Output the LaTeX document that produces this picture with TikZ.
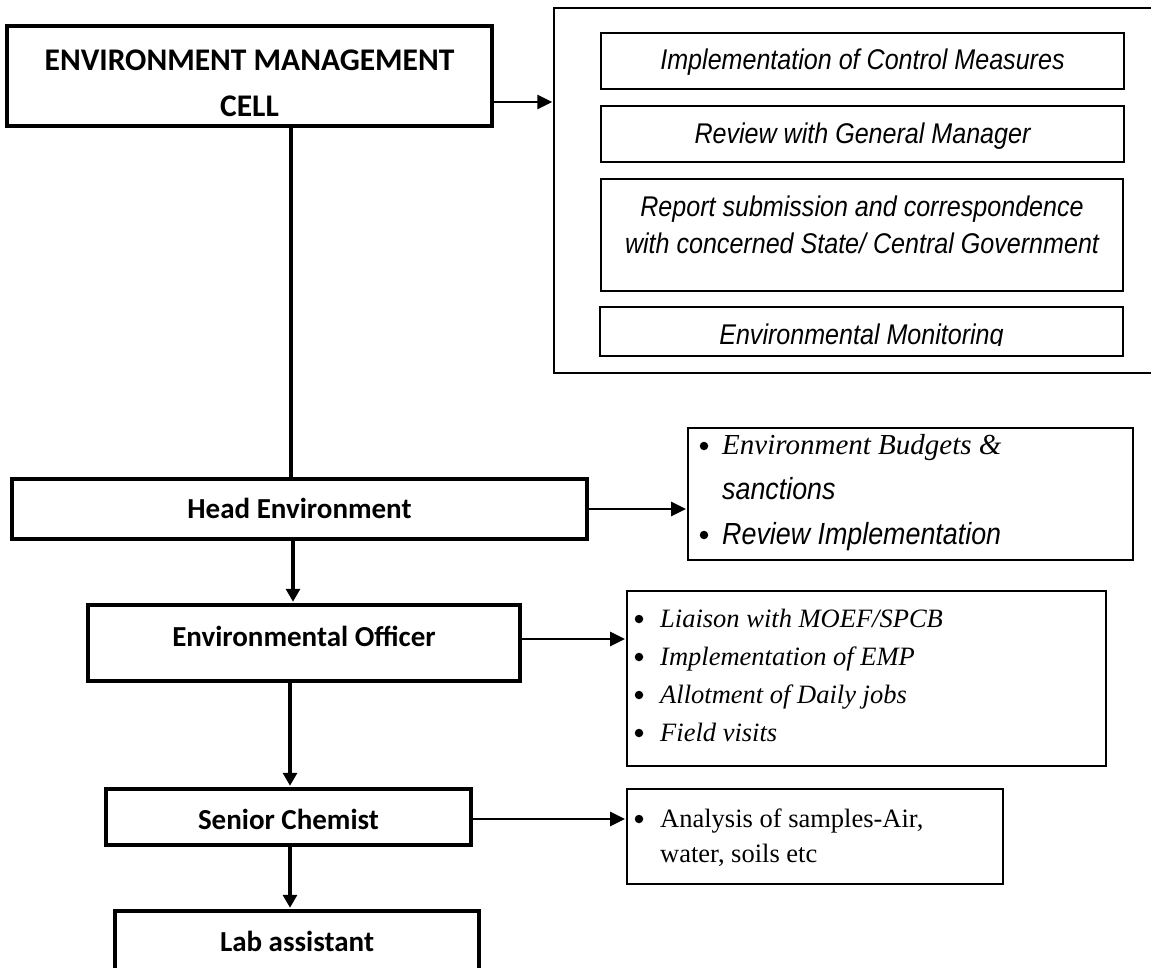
\documentclass[tikz,border=0pt]{standalone}
\usepackage{fontspec}
\usetikzlibrary{arrows.meta}
\newfontfamily\calibrifont{Carlito}
\newfontfamily\narrowsans{Liberation Sans}[FakeStretch=0.88]
\newfontfamily\timesfont{Liberation Serif}
\begin{document}
\begin{tikzpicture}[x=1pt,y=-1pt,
  orgbox/.style={draw, line width=3.5pt, inner sep=0pt},
  panelbox/.style={draw, line width=1.5pt, inner sep=0pt},
  taskbox/.style={draw, line width=2.2pt, inner sep=0pt},
  listbox/.style={draw, line width=1.8pt, inner sep=0pt},
  orglabel/.style={anchor=base, inner sep=0pt, font=\calibrifont\bfseries\fontsize{29}{34}\selectfont},
  toplabel/.style={anchor=base, inner sep=0pt, font=\calibrifont\bfseries\fontsize{31.5}{38}\selectfont},
  tasklabel/.style={anchor=base, inner sep=0pt, font=\narrowsans\itshape\fontsize{28.5}{33}\selectfont},
  serifit/.style={anchor=base west, inner sep=0pt, font=\timesfont\itshape\fontsize{26.5}{31}\selectfont},
  serifitbig/.style={anchor=base west, inner sep=0pt, font=\timesfont\itshape\fontsize{29}{34}\selectfont},
  sansit/.style={anchor=base west, inner sep=0pt, font=\narrowsans\itshape\fontsize{30.5}{35}\selectfont},
  serifup/.style={anchor=base west, inner sep=0pt, font=\timesfont\fontsize{26.5}{31}\selectfont},
  bulletdot/.style={fill=black, circle, inner sep=0pt, minimum size=8.5pt},
  vline/.style={line width=3.2pt},
  varrow/.style={line width=3.2pt, -{Triangle[length=13pt,width=14pt]}, shorten >=1.5pt},
  harrow/.style={line width=2.8pt, -{Triangle[length=15pt,width=14pt]}, shorten >=1pt}]
\useasboundingbox (0,0) rectangle (1151,967);

% left column: reporting chain
\node[orgbox, minimum width=485pt, minimum height=100pt] (emc) at (249.5,76) {};
\node[toplabel] at (249.5,70) {ENVIRONMENT MANAGEMENT};
\node[toplabel] at (249.5,116) {CELL};

\node[orgbox, minimum width=575pt, minimum height=60pt] (head) at (299.5,509) {};
\node[orglabel] at (299.5,518) {Head Environment};

\node[orgbox, minimum width=432pt, minimum height=76pt] (officer) at (304,643) {};
\node[orglabel] at (304,646) {Environmental Officer};

\node[orgbox, minimum width=365pt, minimum height=56pt] (chemist) at (288.5,817) {};
\node[orglabel] at (288.5,829) {Senior Chemist};

\node[orgbox, minimum width=364pt, minimum height=70pt] (lab) at (297,946) {};
\node[orglabel] at (297,951) {Lab assistant};

% duties of the cell
\node[panelbox, minimum width=606pt, minimum height=365pt] (outer) at (857,190.5) {};
\node[taskbox, minimum width=523pt, minimum height=56pt] (task1) at (862.5,61) {};
\node[tasklabel] at (862.5,69) {Implementation of Control Measures};
\node[taskbox, minimum width=523pt, minimum height=56pt] (task2) at (862.5,134) {};
\node[tasklabel] at (862.5,143) {Review with General Manager};
\node[taskbox, minimum width=522pt, minimum height=112pt] (task3) at (862,235) {};
\node[tasklabel] at (862,216) {Report submission and correspondence};
\node[tasklabel] at (862,253) {with concerned State/ Central Government};
\node[taskbox, minimum width=523pt, minimum height=49pt] (task4) at (861.5,331.5) {};
\begin{scope}
  \clip (601,300) rectangle (1123,345);
  \node[tasklabel] at (861.5,344) {Environmental Monitoring};
\end{scope}

% duties of the head
\node[listbox, minimum width=445pt, minimum height=132pt] (headlist) at (910.5,494) {};
\node[bulletdot] at (704,446) {};
\node[serifitbig] at (722,454) {Environment Budgets \&};
\node[sansit] at (722,499) {sanctions};
\node[bulletdot] at (704,535) {};
\node[sansit] at (722,544) {Review Implementation};

% duties of the officer
\node[listbox, minimum width=479pt, minimum height=175pt] (officerlist) at (866.5,678.5) {};
\node[bulletdot] at (639,619) {};
\node[serifit] at (660,627) {Liaison with MOEF/SPCB};
\node[bulletdot] at (639,657) {};
\node[serifit] at (660,665) {Implementation of EMP};
\node[bulletdot] at (639,695) {};
\node[serifit] at (660,703) {Allotment of Daily jobs};
\node[bulletdot] at (639,733) {};
\node[serifit] at (660,741) {Field visits};

% duties of the chemist
\node[listbox, minimum width=376pt, minimum height=95pt] (chemistlist) at (815,836.5) {};
\node[bulletdot] at (639,819) {};
\node[serifup] at (660,827) {Analysis of samples-Air,};
\node[serifup] at (660,862) {water, soils etc};

% connectors
\draw[vline] ([xshift=41.5pt]emc.south) -- ([xshift=41.5pt]emc.south |- head.north);
\draw[varrow] ([xshift=-6.5pt]head.south) -- ([xshift=-6.5pt]head.south |- officer.north);
\draw[varrow] ([xshift=-14pt]officer.south) -- ([xshift=-14pt]officer.south |- chemist.north);
\draw[varrow] ([xshift=1.5pt]chemist.south) -- ([xshift=1.5pt]chemist.south |- lab.north);

\draw[harrow] ([yshift=-26pt]emc.east) -- ([yshift=-26pt]emc.east -| outer.west);
\draw[harrow] (head.east) -- (head.east -| headlist.west);
\draw[harrow] ([yshift=4pt]officer.east) -- ([yshift=4pt]officer.east -| officerlist.west);
\draw[harrow] ([yshift=-2pt]chemist.east) -- ([yshift=-2pt]chemist.east -| chemistlist.west);
\end{tikzpicture}
\end{document}
